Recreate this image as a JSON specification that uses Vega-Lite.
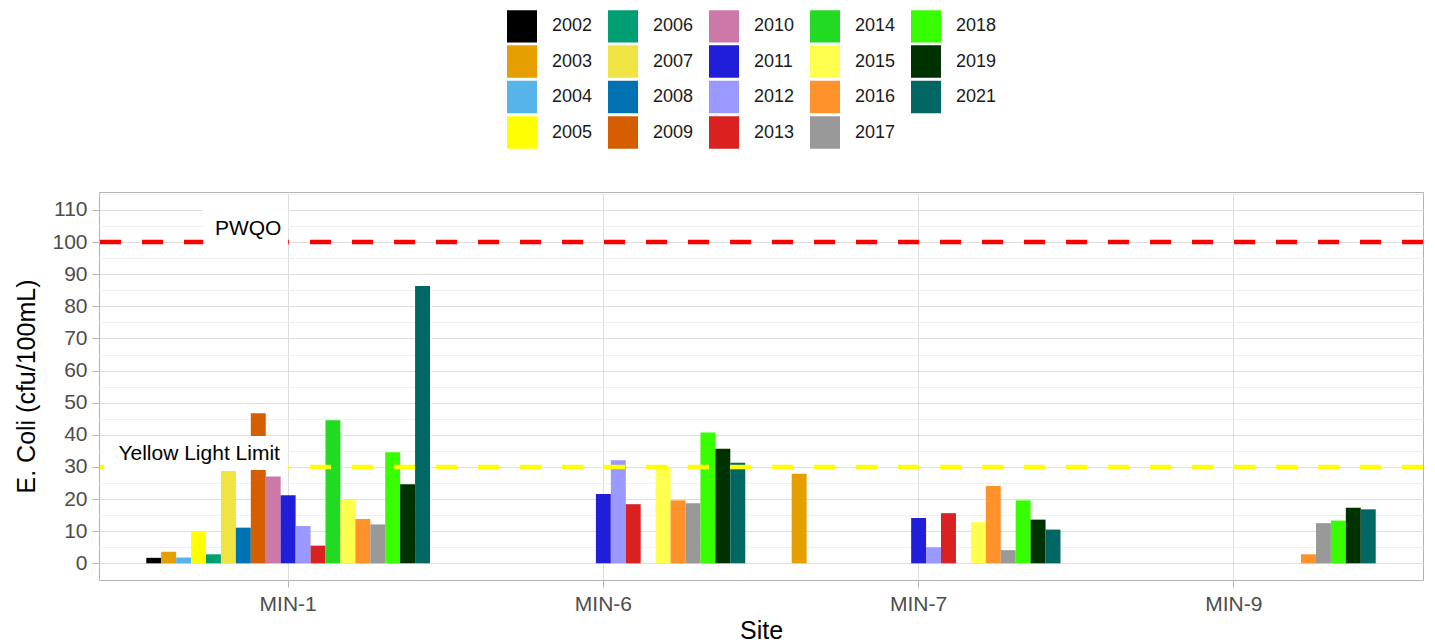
{
  "$schema": "https://vega.github.io/schema/vega-lite/v6.json",
  "autosize": "none",
  "width": 1324,
  "height": 388,
  "padding": {"left": 99, "top": 192, "right": 12, "bottom": 64},
  "background": "white",
  "config": {
    "font": "Liberation Sans",
    "view": {"stroke": "#B3B3B3", "strokeWidth": 1},
    "axis": {"domain": false, "tickColor": "#B3B3B3", "tickSize": 7, "labelFontSize": 21, "labelColor": "#4D4D4D", "titleFontSize": 25, "titleFontWeight": "normal", "titleColor": "#000000", "labelFont": "Liberation Sans", "titleFont": "Liberation Sans"}
  },
  "encoding": {
    "x": {
      "field": "site", "type": "nominal",
      "scale": {"domain": ["MIN-1", "MIN-6", "MIN-7", "MIN-9"], "paddingInner": 0.1, "paddingOuter": 0.15},
      "axis": {"title": "Site", "labelAngle": 0, "bandPosition": 0.5, "grid": true, "gridColor": "#DEDEDE", "labelPadding": 6, "titlePadding": 4}
    },
    "y": {
      "field": "value", "type": "quantitative",
      "scale": {"domain": [-5.2, 115.6], "nice": false, "zero": false},
      "axis": {
        "title": "E. Coli (cfu/100mL)",
        "values": [0, 5, 10, 15, 20, 25, 30, 35, 40, 45, 50, 55, 60, 65, 70, 75, 80, 85, 90, 95, 100, 105, 110, 115],
        "labelExpr": "datum.value % 10 === 0 ? datum.label : ''",
        "grid": true,
        "gridColor": {"condition": {"test": "datum.value % 10 === 0", "value": "#DEDEDE"}, "value": "#F0F0F0"},
        "tickOpacity": {"condition": {"test": "datum.value % 10 === 0", "value": 1}, "value": 0},
        "labelPadding": 5, "titlePadding": 12, "labelOverlap": false, "labelFlush": false
      }
    }
  },
  "layer": [
    {
      "data": {"values": [
        {"site": "MIN-1", "year": "2002", "value": 1.7},
        {"site": "MIN-1", "year": "2003", "value": 3.6},
        {"site": "MIN-1", "year": "2004", "value": 1.8},
        {"site": "MIN-1", "year": "2005", "value": 9.8},
        {"site": "MIN-1", "year": "2006", "value": 2.8},
        {"site": "MIN-1", "year": "2007", "value": 28.7},
        {"site": "MIN-1", "year": "2008", "value": 11.1},
        {"site": "MIN-1", "year": "2009", "value": 46.7},
        {"site": "MIN-1", "year": "2010", "value": 27.0},
        {"site": "MIN-1", "year": "2011", "value": 21.2},
        {"site": "MIN-1", "year": "2012", "value": 11.6},
        {"site": "MIN-1", "year": "2013", "value": 5.5},
        {"site": "MIN-1", "year": "2014", "value": 44.5},
        {"site": "MIN-1", "year": "2015", "value": 19.7},
        {"site": "MIN-1", "year": "2016", "value": 13.8},
        {"site": "MIN-1", "year": "2017", "value": 12.1},
        {"site": "MIN-1", "year": "2018", "value": 34.6},
        {"site": "MIN-1", "year": "2019", "value": 24.6},
        {"site": "MIN-1", "year": "2021", "value": 86.3},
        {"site": "MIN-6", "year": "2011", "value": 21.6},
        {"site": "MIN-6", "year": "2012", "value": 32.1},
        {"site": "MIN-6", "year": "2013", "value": 18.4},
        {"site": "MIN-6", "year": "2015", "value": 29.8},
        {"site": "MIN-6", "year": "2016", "value": 19.6},
        {"site": "MIN-6", "year": "2017", "value": 18.7},
        {"site": "MIN-6", "year": "2018", "value": 40.7},
        {"site": "MIN-6", "year": "2019", "value": 35.7},
        {"site": "MIN-6", "year": "2021", "value": 31.3},
        {"site": "MIN-7", "year": "2003", "value": 27.9},
        {"site": "MIN-7", "year": "2011", "value": 14.1},
        {"site": "MIN-7", "year": "2012", "value": 5.0},
        {"site": "MIN-7", "year": "2013", "value": 15.6},
        {"site": "MIN-7", "year": "2015", "value": 12.8},
        {"site": "MIN-7", "year": "2016", "value": 24.1},
        {"site": "MIN-7", "year": "2017", "value": 4.1},
        {"site": "MIN-7", "year": "2018", "value": 19.6},
        {"site": "MIN-7", "year": "2019", "value": 13.6},
        {"site": "MIN-7", "year": "2021", "value": 10.5},
        {"site": "MIN-9", "year": "2016", "value": 2.8},
        {"site": "MIN-9", "year": "2017", "value": 12.5},
        {"site": "MIN-9", "year": "2018", "value": 13.3},
        {"site": "MIN-9", "year": "2019", "value": 17.3},
        {"site": "MIN-9", "year": "2021", "value": 16.8}
      ]},
      "mark": {"type": "bar"},
      "encoding": {
        "xOffset": {
          "field": "year", "type": "nominal", "sort": "ascending",
          "scale": {"paddingInner": 0, "paddingOuter": 0}
        },
        "color": {
          "field": "year", "type": "nominal",
          "scale": {
            "domain": ["2002", "2003", "2004", "2005", "2006", "2007", "2008", "2009", "2010", "2011", "2012", "2013", "2014", "2015", "2016", "2017", "2018", "2019", "2021"],
            "range": ["#000000", "#E69F00", "#56B4E9", "#FFFF00", "#009E73", "#F0E442", "#0072B2", "#D55E00", "#CC79A7", "#211EDA", "#9999FF", "#D92121", "#21DA21", "#FFFF4D", "#FF922A", "#999999", "#37FF00", "#003100", "#006763"]
          },
          "legend": {
            "orient": "none", "legendX": 408, "legendY": -181, "columns": 5, "title": null,
            "symbolType": "M-1,-1.08H1V1.08H-1Z", "symbolSize": 900, "symbolStrokeWidth": 0, "symbolOpacity": 1,
            "labelFontSize": 18, "labelColor": "#1A1A1A", "labelOffset": 15, "columnPadding": 15, "rowPadding": 1.5, "padding": 0
          }
        }
      }
    },
    {
      "data": {"values": [{"value": 100}]},
      "mark": {"type": "rule", "color": "#FF0000", "strokeWidth": 4.5, "strokeDash": [21, 21], "strokeCap": "butt"},
      "encoding": {"x": null}
    },
    {
      "data": {"values": [{"value": 30}]},
      "mark": {"type": "rule", "color": "#FFFF00", "strokeWidth": 4.5, "strokeDash": [21, 21], "strokeCap": "butt"},
      "encoding": {"x": null}
    },
    {
      "data": {"values": [{"site": "MIN-1", "value": 100}]},
      "mark": {"type": "point", "shape": "M-85,-33H0V3H-85Z", "size": 4, "filled": true, "fill": "#FFFFFF", "strokeWidth": 0, "opacity": 1},
      "encoding": {}
    },
    {
      "data": {"values": [{"site": "MIN-1", "value": 30}]},
      "mark": {"type": "point", "shape": "M-184,-31H0V3H-184Z", "size": 4, "filled": true, "fill": "#FFFFFF", "strokeWidth": 0, "opacity": 1},
      "encoding": {}
    },
    {
      "data": {"values": [{"site": "MIN-1", "value": 100, "label": "PWQO"}]},
      "mark": {"type": "text", "fontSize": 21, "color": "#000000", "align": "center", "baseline": "middle", "dx": -40, "dy": -13},
      "encoding": {"text": {"field": "label"}}
    },
    {
      "data": {"values": [{"site": "MIN-1", "value": 30, "label": "Yellow Light Limit"}]},
      "mark": {"type": "text", "fontSize": 21, "color": "#000000", "align": "center", "baseline": "middle", "dx": -89, "dy": -13},
      "encoding": {"text": {"field": "label"}}
    }
  ]
}
